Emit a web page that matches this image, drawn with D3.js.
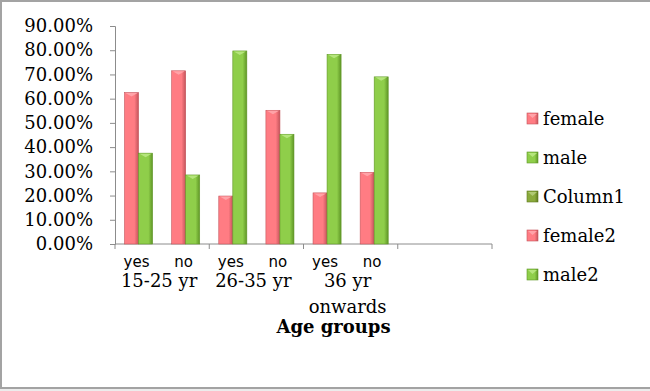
<!DOCTYPE html>
<html>
<head>
<meta charset="utf-8">
<script src="https://cdn.jsdelivr.net/npm/d3@7"></script>
<style>
  html, body { margin: 0; padding: 0; background: #ececec; }
  #chart { width: 650px; height: 391px; }
  text { font-family: "DejaVu Serif", serif; fill: #000; }
</style>
</head>
<body>
<div id="chart"></div>
<script>
// data
const groups = ["15-25 yr", "26-35 yr", "36 yr onwards", ""];
const answers = ["yes", "no"];
const female = [62.5, 71.5, 19.8, 55.2, 21.1, 29.6, null, null];
const male = [37.5, 28.5, 79.7, 45.3, 78.3, 69.0, null, null];
const seriesNames = ["female", "male"];
const legendNames = ["female", "male", "Column1", "female2", "male2"];
const yTicks = [0, 10, 20, 30, 40, 50, 60, 70, 80, 90];

const colors = {
  female: { base: "#ff7c83", light: "#ffa3a8", dark: "#c4545b" },
  male: { base: "#8fce4a", light: "#b5e57c", dark: "#5f9626" },
  Column1: { base: "#8aaa3c", light: "#b0c974", dark: "#5e7a1f" },
  female2: { base: "#ff7c83", light: "#ffa3a8", dark: "#c4545b" },
  male2: { base: "#8fce4a", light: "#b5e57c", dark: "#5f9626" }
};

const W = 650, H = 391;
const plot = { left: 115, right: 492, top: 26, bottom: 244 };

const svg = d3.select("#chart").append("svg")
  .attr("width", W).attr("height", H);

// chart area frame
svg.append("rect")
  .attr("x", 0).attr("y", 0).attr("width", W).attr("height", 389)
  .attr("fill", "#fff");
svg.append("path")
  .attr("d", `M${W},1 H1 V388 H${W}`)
  .attr("fill", "none").attr("stroke", "#a3a3a3").attr("stroke-width", 2);

// gradients for the 3D-ish bars
const defs = svg.append("defs");
Object.keys(colors).forEach(k => {
  const g = defs.append("linearGradient").attr("id", "grad-" + k)
    .attr("x1", 0).attr("x2", 1).attr("y1", 0).attr("y2", 0);
  g.append("stop").attr("offset", "0%").attr("stop-color", colors[k].base);
  g.append("stop").attr("offset", "70%").attr("stop-color", colors[k].base);
  g.append("stop").attr("offset", "100%").attr("stop-color", colors[k].dark);
});

// categories: one slot per (group, answer)
const slots = [];
groups.forEach((g, gi) => answers.forEach(a => slots.push({ group: gi, answer: a })));
const slotKeys = slots.map((s, i) => i);

const x = d3.scaleBand()
  .domain(slotKeys)
  .range([plot.left, plot.right])
  .padding(0);

const xSeries = d3.scaleBand()
  .domain(seriesNames)
  .range([0, x.bandwidth()])
  .paddingInner(0)
  .paddingOuter(0.68);

const y = d3.scaleLinear()
  .domain([0, 90])
  .range([plot.bottom, plot.top]);

// y axis
const yAxis = svg.append("g")
  .attr("transform", `translate(${plot.left},0)`)
  .call(d3.axisLeft(y).tickValues(yTicks).tickSize(5).tickFormat(d => d.toFixed(2) + "%"));
yAxis.select(".domain").attr("stroke", "#8c8c8c");
yAxis.selectAll(".tick line").attr("stroke", "#8c8c8c");
yAxis.selectAll(".tick text")
  .attr("x", -22)
  .style("font-family", "DejaVu Serif, serif")
  .style("font-size", "18px")
  .attr("fill", "#000");

// x axis line with group separators
const groupEdges = d3.range(groups.length + 1).map(i => x(i * answers.length) ?? plot.right);
svg.append("line")
  .attr("x1", plot.left).attr("x2", plot.right)
  .attr("y1", y(0)).attr("y2", y(0))
  .attr("stroke", "#8c8c8c");
svg.selectAll(".gtick").data(groupEdges).enter().append("line")
  .attr("x1", d => d).attr("x2", d => d)
  .attr("y1", y(0)).attr("y2", y(0) + 5)
  .attr("stroke", "#8c8c8c");

// bars
const data = { female, male };
seriesNames.forEach(s => {
  const bars = svg.append("g").selectAll("g")
    .data(data[s].map((v, i) => ({ v, i })).filter(d => d.v != null))
    .enter().append("g");

  bars.append("rect")
    .attr("x", d => x(d.i) + xSeries(s))
    .attr("y", d => y(d.v))
    .attr("width", xSeries.bandwidth())
    .attr("height", d => y(0) - y(d.v))
    .attr("fill", `url(#grad-${s})`)
    .attr("stroke", colors[s].dark)
    .attr("stroke-width", 0.6);

  // small bevel on the top
  bars.append("path")
    .attr("d", d => {
      const x0 = x(d.i) + xSeries(s), bw = xSeries.bandwidth(), y0 = y(d.v);
      return `M${x0 + 1},${y0 + 0.5} H${x0 + bw - 1} L${x0 + bw / 2},${y0 + 4} Z`;
    })
    .attr("fill", colors[s].light);
});

// inner labels yes / no
svg.selectAll(".ans").data(slots.filter(s => groups[s.group] !== "")).enter().append("text")
  .attr("x", (d) => x(slots.indexOf(d)) + x.bandwidth() / 2 - 2)
  .attr("y", 267)
  .attr("text-anchor", "middle")
  .style("font-family", "DejaVu Sans, sans-serif")
  .style("font-size", "15px")
  .text(d => d.answer);

// group labels (wrapped like the original)
const groupLabels = svg.selectAll(".grp").data(groups.filter(g => g !== "")).enter().append("text")
  .attr("text-anchor", "middle")
  .style("font-size", "18px");
groupLabels.each(function (g, gi) {
  const cx = (groupEdges[gi] + groupEdges[gi + 1]) / 2;
  const words = g.split(" ");
  const lines = words.length > 2 ? [words.slice(0, 2).join(" "), words.slice(2).join(" ")] : [g];
  d3.select(this).selectAll("tspan").data(lines).enter().append("tspan")
    .attr("x", cx - 3)
    .attr("y", (d, i) => 287 + i * 26)
    .text(d => d);
});

// axis title
svg.append("text")
  .attr("x", (plot.left + plot.right) / 2 + 30)
  .attr("y", 333)
  .attr("text-anchor", "middle")
  .style("font-size", "18px")
  .style("font-weight", "bold")
  .text("Age groups");

// legend
const legend = svg.append("g").attr("transform", "translate(527,113)");
legendNames.forEach((name, i) => {
  const item = legend.append("g").attr("transform", `translate(0,${i * 39})`);
  item.append("rect")
    .attr("width", 11).attr("height", 11)
    .attr("fill", `url(#grad-${name})`)
    .attr("stroke", colors[name].dark).attr("stroke-width", 0.6);
  item.append("path")
    .attr("d", "M1,1 H10 L5.5,5 Z")
    .attr("fill", colors[name].light);
  item.append("text")
    .attr("x", 16).attr("y", 12)
    .style("font-size", "18px")
    .text(name);
});
</script>
</body>
</html>
